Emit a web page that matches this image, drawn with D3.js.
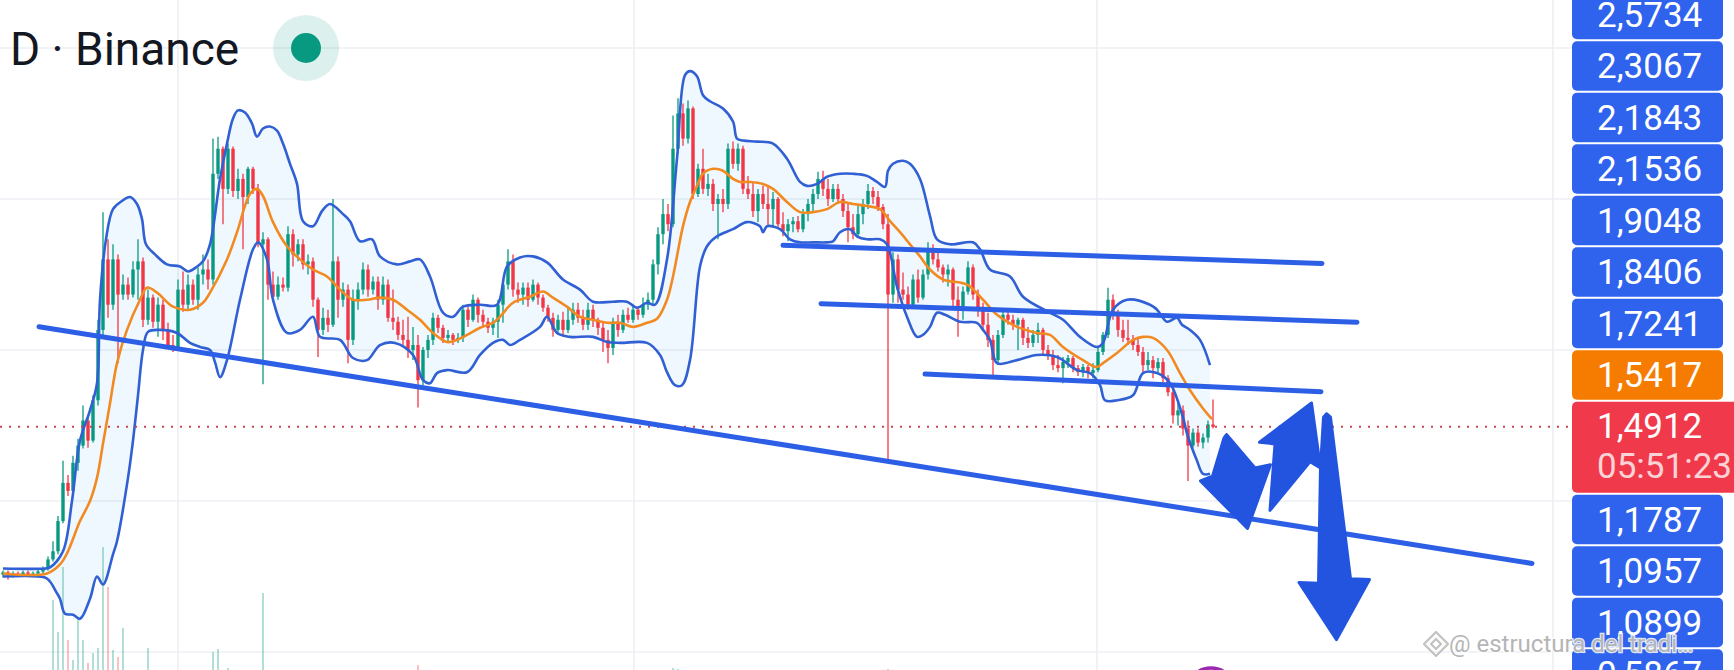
<!DOCTYPE html>
<html><head><meta charset="utf-8">
<script src="https://cdn.jsdelivr.net/npm/d3@7"></script>
<style>html,body{margin:0;padding:0;background:#fff;overflow:hidden}svg{display:block}</style>
</head><body><svg id="c" width="1734" height="670"></svg>
<script>
// ---------- DATA (daily candles, Binance) ----------
const openP = [
0.513,0.527,0.507,0.520,0.513,0.527,0.513,0.520,0.533,0.553,
0.613,0.667,0.867,1.120,1.067,1.253,1.367,1.533,1.400,1.667,
2.133,2.600,2.300,2.600,2.367,2.433,2.367,2.533,2.587,2.200,
2.347,2.187,2.300,2.133,2.033,2.013,2.400,2.300,2.433,2.333,
2.500,2.533,2.467,3.167,3.333,3.067,3.333,3.053,3.133,3.013,
3.200,3.067,2.700,2.733,2.433,2.353,2.433,2.413,2.767,2.633,
2.700,2.567,2.587,2.333,2.133,2.213,2.167,2.587,2.333,2.400,
2.067,2.333,2.400,2.533,2.400,2.453,2.333,2.433,2.213,2.187,
2.100,2.067,2.000,2.033,1.800,2.000,2.067,2.213,2.147,2.080,
2.100,2.067,2.080,2.267,2.200,2.333,2.233,2.187,2.147,2.187,
2.300,2.433,2.587,2.400,2.367,2.413,2.333,2.433,2.347,2.280,
2.213,2.133,2.200,2.133,2.200,2.267,2.213,2.167,2.267,2.200,
2.147,2.067,2.013,2.187,2.133,2.233,2.200,2.267,2.233,2.300,
2.333,2.567,2.767,2.900,2.833,3.333,3.567,3.400,3.600,3.033,
3.200,3.067,3.100,2.967,3.000,2.967,3.333,3.233,3.333,3.067,
3.033,2.920,3.033,2.967,2.933,3.000,2.833,2.787,2.833,2.853,
2.800,2.900,2.967,3.033,3.133,3.067,3.000,3.067,3.000,2.920,
2.813,2.767,2.900,2.967,3.053,3.013,2.947,2.833,2.367,2.600,
2.400,2.367,2.300,2.467,2.347,2.500,2.667,2.600,2.547,2.500,
2.533,2.333,2.267,2.387,2.547,2.367,2.267,2.167,2.067,1.933,
2.100,2.233,2.200,2.167,2.200,2.080,2.047,2.100,2.133,2.000,
1.967,1.900,1.880,1.920,1.947,1.880,1.853,1.887,1.847,1.867,
1.987,2.100,2.333,2.233,2.133,2.080,2.067,2.033,1.987,1.900,
1.933,1.880,1.920,1.813,1.720,1.567,1.600,1.480,1.367,1.453,
1.387,1.420,1.507];
const highP = [
0.540,0.540,0.533,0.533,0.540,0.540,0.533,0.547,0.567,0.633,
0.733,0.900,1.267,1.173,1.300,1.413,1.633,1.567,1.700,2.200,
2.913,2.733,2.700,2.633,2.500,2.480,2.587,2.733,2.613,2.400,
2.367,2.347,2.333,2.180,2.100,2.467,2.520,2.500,2.467,2.547,
2.633,2.600,3.400,3.413,3.347,3.367,3.347,3.200,3.167,3.213,
3.213,3.100,2.780,2.747,2.520,2.487,2.480,2.820,2.800,2.733,
2.733,2.633,2.613,2.347,2.280,2.267,3.000,2.620,2.447,2.433,
2.400,2.447,2.580,2.567,2.487,2.487,2.487,2.467,2.400,2.220,
2.200,2.220,2.153,2.100,2.020,2.100,2.247,2.233,2.167,2.133,
2.113,2.113,2.300,2.287,2.367,2.347,2.267,2.213,2.213,2.333,
2.453,2.667,2.633,2.447,2.447,2.447,2.467,2.447,2.367,2.300,
2.247,2.233,2.253,2.287,2.313,2.313,2.267,2.313,2.300,2.213,
2.180,2.133,2.213,2.233,2.267,2.280,2.300,2.287,2.347,2.380,
2.600,2.813,3.000,2.967,3.553,3.667,3.633,3.653,3.613,3.233,
3.333,3.167,3.133,3.033,3.067,3.367,3.380,3.367,3.353,3.153,
3.113,3.067,3.087,3.087,3.047,3.013,2.913,2.867,2.880,2.887,
2.933,3.000,3.067,3.180,3.187,3.133,3.100,3.100,3.033,2.967,
2.900,2.953,3.000,3.100,3.080,3.053,2.967,2.900,2.647,2.633,
2.513,2.420,2.500,2.533,2.533,2.713,2.700,2.647,2.567,2.567,
2.547,2.420,2.420,2.587,2.567,2.400,2.313,2.247,2.100,2.133,
2.267,2.267,2.233,2.213,2.213,2.153,2.133,2.180,2.147,2.033,
2.000,1.967,1.953,1.967,1.960,1.900,1.907,1.900,1.913,2.013,
2.120,2.413,2.367,2.267,2.200,2.200,2.100,2.080,2.020,1.987,
1.960,1.947,1.947,1.833,1.747,1.647,1.633,1.533,1.480,1.480,
1.447,1.533,1.673];
const lowP = [
0.493,0.480,0.493,0.500,0.507,0.500,0.500,0.507,0.520,0.540,
0.600,0.647,0.853,1.033,1.047,1.200,1.347,1.353,1.387,1.633,
2.100,2.213,2.267,1.913,2.333,2.333,2.347,2.333,2.153,2.167,
2.147,2.087,2.067,2.013,1.987,2.000,2.253,2.267,2.300,2.267,
2.433,2.400,2.433,3.133,2.833,3.033,3.013,3.000,2.667,2.967,
3.033,2.680,1.773,2.333,2.320,2.333,2.387,2.387,2.553,2.587,
2.533,2.500,2.287,1.953,2.100,2.120,2.153,2.213,2.287,1.913,
2.033,2.267,2.367,2.353,2.367,2.267,2.300,2.187,2.133,2.067,
2.033,1.947,1.933,1.620,1.767,1.947,2.033,2.113,2.047,2.047,
2.033,2.047,2.053,2.153,2.187,2.180,2.153,2.113,2.100,2.080,
2.180,2.400,2.353,2.313,2.300,2.287,2.320,2.300,2.253,2.187,
2.087,2.100,2.087,2.113,2.167,2.180,2.133,2.133,2.153,2.100,
1.987,1.913,1.967,2.087,2.113,2.180,2.180,2.200,2.213,2.267,
2.300,2.500,2.700,2.787,2.813,3.300,3.353,3.367,3.000,3.013,
3.033,3.020,2.920,2.733,2.913,2.933,3.200,3.187,3.033,3.000,
2.880,2.847,2.933,2.820,2.813,2.813,2.753,2.720,2.780,2.780,
2.780,2.853,2.920,3.000,3.020,2.953,2.980,2.967,2.880,2.713,
2.733,2.747,2.833,2.933,2.967,2.920,2.800,1.267,2.313,2.313,
2.333,2.267,2.280,2.313,2.333,2.467,2.567,2.520,2.447,2.420,
2.287,2.087,2.200,2.367,2.333,2.220,2.133,2.020,1.833,1.900,
2.080,2.167,2.133,2.000,2.033,2.013,2.020,2.047,1.967,1.933,
1.867,1.853,1.780,1.880,1.853,1.827,1.820,1.813,1.813,1.853,
1.967,2.080,2.200,2.087,2.053,2.033,2.000,1.960,1.853,1.867,
1.813,1.853,1.787,1.693,1.513,1.500,1.433,1.133,1.353,1.360,
1.347,1.387,1.480];
const closeP = [
0.527,0.507,0.520,0.513,0.527,0.513,0.520,0.533,0.553,0.613,
0.667,0.867,1.120,1.067,1.253,1.367,1.533,1.400,1.667,2.133,
2.600,2.300,2.600,2.367,2.433,2.367,2.533,2.587,2.200,2.347,
2.187,2.300,2.133,2.033,2.013,2.400,2.300,2.433,2.333,2.500,
2.533,2.467,3.167,3.333,3.067,3.333,3.053,3.133,3.013,3.200,
3.067,2.700,2.733,2.433,2.353,2.433,2.413,2.767,2.633,2.700,
2.567,2.587,2.333,2.133,2.213,2.167,2.587,2.333,2.400,2.067,
2.333,2.400,2.533,2.400,2.453,2.333,2.433,2.213,2.187,2.100,
2.067,2.000,2.033,1.800,2.000,2.067,2.213,2.147,2.080,2.100,
2.067,2.080,2.267,2.200,2.333,2.233,2.187,2.147,2.187,2.300,
2.433,2.587,2.400,2.367,2.413,2.333,2.433,2.347,2.280,2.213,
2.133,2.200,2.133,2.200,2.267,2.213,2.167,2.267,2.200,2.147,
2.067,2.013,2.187,2.133,2.233,2.200,2.267,2.233,2.300,2.333,
2.567,2.767,2.900,2.833,3.333,3.567,3.400,3.600,3.033,3.200,
3.067,3.100,2.967,3.000,2.967,3.333,3.233,3.333,3.067,3.033,
2.920,3.033,2.967,2.933,3.000,2.833,2.787,2.833,2.853,2.800,
2.900,2.967,3.033,3.133,3.067,3.000,3.067,3.000,2.920,2.813,
2.767,2.900,2.967,3.053,3.013,2.947,2.833,2.367,2.600,2.400,
2.367,2.300,2.467,2.347,2.500,2.667,2.600,2.547,2.500,2.533,
2.333,2.267,2.387,2.547,2.367,2.267,2.167,2.067,1.933,2.100,
2.233,2.200,2.167,2.200,2.080,2.047,2.100,2.133,2.000,1.967,
1.900,1.880,1.920,1.947,1.880,1.853,1.887,1.847,1.867,1.987,
2.100,2.333,2.233,2.133,2.080,2.067,2.033,1.987,1.900,1.933,
1.880,1.920,1.813,1.720,1.567,1.600,1.480,1.367,1.453,1.387,
1.420,1.507,1.4912];
const volume = [
4,3,5,3,4,3,4,5,6,8,
80,48,113,40,20,63,40,17,27,32,
133,93,30,23,52,9,7,8,6,32,
6,5,4,5,6,8,5,4,5,4,
5,6,28,31,8,12,7,6,5,6,
5,7,87,9,6,5,4,6,8,5,
5,4,6,7,5,4,9,6,5,7,
5,4,6,5,4,5,4,6,5,4,
5,4,6,15,7,5,4,5,4,3,
3,4,6,4,5,4,3,4,3,5,
6,8,5,4,3,4,3,4,3,4,
4,3,4,3,4,3,4,5,3,4,
4,5,4,3,4,3,4,3,4,6,
9,10,8,6,12,11,8,7,9,6,
5,4,5,6,4,7,5,4,6,4,
4,3,4,3,4,5,3,4,3,3,
4,3,4,5,4,3,4,3,4,5,
4,5,4,3,3,4,5,11,6,5,
4,3,4,3,4,5,4,3,3,4,
5,4,3,4,4,3,4,5,6,4,
3,3,3,4,3,3,4,3,4,3,
4,3,4,3,3,3,3,3,3,4,
4,6,4,3,3,3,3,3,4,3,
3,3,4,4,6,5,6,9,4,3,
3,4,3];

// Bollinger bands: [day index, price]
const upperBand = [[0,0.553],[8.4,0.553],[9.4,0.56],[12,0.667],[13.8,1.0],[15.4,1.4],[17.4,1.6],[18.8,1.78],[19.4,2.333],[20.6,2.733],[22,2.933],[23.8,2.987],[25.4,3.013],[26.8,2.967],[27.8,2.867],[28.6,2.7],[30.4,2.633],[32.8,2.567],[35.4,2.553],[37,2.52],[38.6,2.547],[40,2.587],[41.4,2.7],[43.4,3.133],[44.8,3.367],[46,3.533],[47,3.587],[48.4,3.573],[49.8,3.5],[50.8,3.413],[52,3.467],[53.4,3.48],[54.8,3.453],[56,3.367],[57.4,3.233],[58.8,3.1],[60,2.853],[62,2.82],[63.8,2.92],[65.4,2.967],[68,2.9],[69.4,2.853],[71.4,2.72],[73.8,2.733],[75.4,2.62],[78.8,2.567],[81.4,2.587],[83.4,2.6],[85.4,2.487],[88,2.247],[90,2.22],[92,2.287],[95.4,2.3],[98.8,2.3],[100.8,2.553],[103.4,2.613],[106,2.62],[108.8,2.58],[112,2.467],[115.4,2.4],[118,2.32],[122,2.32],[124.8,2.32],[126.8,2.28],[128.8,2.313],[130.4,2.3],[132.8,2.6],[134.8,3.267],[136.4,3.82],[137.4,3.847],[138.8,3.813],[140,3.687],[141.4,3.647],[144,3.6],[146,3.513],[146.8,3.4],[148,3.387],[150.8,3.38],[154,3.367],[156.8,3.267],[159.4,3.113],[160.8,3.087],[162.8,3.1],[164.8,3.147],[167.4,3.167],[170,3.167],[172.8,3.153],[174.8,3.113],[176.4,3.08],[177,3.187],[178,3.233],[180,3.253],[181.4,3.233],[183.4,3.133],[185.4,2.887],[186.8,2.733],[189.4,2.7],[194,2.713],[195.4,2.667],[197.4,2.533],[201.4,2.487],[204,2.353],[209.4,2.247],[212,2.2],[215.4,2.087],[218.8,2.02],[220,2.047],[222,2.267],[224.8,2.333],[229.4,2.3],[230.8,2.267],[232.8,2.187],[234.8,2.213],[235.8,2.167],[237.4,2.133],[239.4,2.067],[241.4,1.9]];
const middleBand = [[0,0.52],[8.8,0.52],[11.4,0.58],[12.8,0.653],[15.4,0.867],[17.4,1.0],[18.8,1.153],[20,1.38],[21.4,1.647],[22.8,1.913],[24.8,2.133],[27.4,2.333],[28.8,2.413],[30.8,2.38],[34,2.287],[37.4,2.267],[40,2.313],[41.4,2.38],[44.8,2.6],[46.8,2.78],[49.4,3.033],[50.8,3.067],[52,3.02],[54,2.847],[56.8,2.687],[59.4,2.6],[62,2.533],[64.8,2.487],[67.4,2.4],[70,2.333],[72.8,2.333],[75.4,2.347],[78,2.333],[80.8,2.267],[83.4,2.2],[86,2.113],[88.8,2.053],[90.8,2.067],[92.8,2.1],[95.4,2.147],[98,2.18],[99.4,2.22],[102,2.313],[105.4,2.353],[108,2.387],[110,2.347],[112.8,2.287],[115.4,2.22],[118,2.2],[120.8,2.18],[123.4,2.18],[126,2.153],[128.8,2.18],[130.8,2.207],[132.8,2.333],[134,2.487],[136,2.82],[137.4,2.98],[138.8,3.087],[140,3.167],[142,3.2],[144,3.187],[146,3.133],[147.4,3.113],[149.4,3.113],[152,3.1],[154,3.067],[156.8,2.98],[159.4,2.913],[162,2.913],[164.8,2.933],[167.4,2.98],[170,2.967],[172.8,2.953],[175.4,2.933],[177.4,2.853],[179.4,2.78],[181.4,2.7],[183.4,2.62],[185.4,2.533],[188,2.467],[192.8,2.433],[196,2.333],[198.8,2.233],[202.8,2.153],[206.8,2.113],[209.4,2.1],[212,2.02],[216,1.933],[218.8,1.887],[220,1.913],[222.8,1.98],[226,2.067],[228,2.087],[230,2.08],[232.8,2.0],[235.4,1.847],[237.4,1.733],[240,1.613],[241.8,1.5417]];
const lowerBand = [[0,0.5],[8.4,0.493],[9.4,0.467],[10.6,0.4],[11.4,0.353],[12.4,0.253],[14,0.247],[15.4,0.22],[17.4,0.353],[18.8,0.5],[20,0.447],[22,0.647],[22.8,0.733],[25,1.153],[26,1.4],[27,1.7],[28,2.0],[29,2.12],[31.4,2.133],[34.8,2.113],[37.4,2.047],[39.4,2.02],[41.4,2.0],[42.4,1.92],[43.4,1.82],[44.8,1.933],[47.4,2.333],[50,2.667],[51,2.713],[52.8,2.6],[54,2.333],[56.8,2.113],[59.4,2.133],[62,2.22],[63.4,2.087],[67.4,2.067],[70,1.947],[72.8,1.933],[75.4,2.033],[78.4,2.047],[82,1.967],[84,1.8],[85.4,1.78],[86.8,1.847],[88.8,1.867],[92.8,1.853],[95.4,1.967],[98,2.047],[100,2.067],[101.4,2.033],[103.4,2.067],[107.4,2.153],[108.8,2.22],[110.8,2.113],[113.4,2.087],[118,2.087],[120.8,2.053],[123.4,2.047],[128.8,2.047],[131.4,1.967],[132.8,1.853],[134.4,1.767],[135.8,1.767],[137.4,1.933],[139.4,2.553],[140.8,2.687],[142.8,2.753],[146,2.8],[148.8,2.847],[151.4,2.82],[152,2.78],[152.8,2.82],[155.4,2.8],[157.4,2.733],[159.4,2.713],[162,2.713],[164.8,2.713],[166,2.72],[167.4,2.78],[169.4,2.8],[170.8,2.753],[172.8,2.733],[175.4,2.733],[176.8,2.7],[178.8,2.42],[180.8,2.22],[182.8,2.087],[184,2.1],[185.4,2.153],[186.8,2.247],[188.4,2.233],[191.4,2.187],[194.8,2.18],[196,2.133],[197.4,2.067],[198.8,1.913],[202.8,1.933],[206.8,1.967],[210.8,1.953],[214.8,1.867],[217.4,1.847],[219.4,1.767],[220.4,1.667],[222.8,1.667],[226,1.7],[228,1.847],[230.8,1.847],[233.4,1.78],[236,1.553],[236.8,1.447],[238.8,1.267],[240,1.18],[241.4,1.18]];

// drawings: trend lines [[day, price],[day, price]]
const trendLines = [
  [[7.2,2.1536],[305.8,0.5867]],
  [[156,2.693],[263.8,2.5734]],
  [[163.6,2.3067],[270.8,2.1843]],
  [[184.4,1.8406],[263.6,1.7241]]
];
// hand-drawn arrows (outline points, [day, price])
const arrowShapes = [
  [[244.7,1.44],[250.4,1.218],[253.5,1.24],[248.9,0.818],[239.5,1.133],[241.9,1.165],[244.2,1.418]],
  [[261.7,1.649],[263.5,1.218],[261.4,1.26],[253.4,0.938],[254.4,1.378],[251.3,1.389]],
  [[264.7,1.578],[265.5,1.555],[269.5,0.485],[273.3,0.48],[266.7,0.082],[259.2,0.46],[263.1,0.455],[263.5,1.222],[264.1,1.555]]
];
const quarterDays = [35, 126.2, 218.8, 310];
const priceGrid = [0, 1, 2, 3, 4];
const lastPrice = 1.4912;
const maValue = 1.5417;
const countdown = "05:51:23";
const tagsAbove = [2.5734, 2.3067, 2.1843, 2.1536, 1.9048, 1.8406, 1.7241];
const tagsBelow = [1.1787, 1.0957, 1.0899, 0.5867];
const titleText = "D · Binance";
const watermark = "@ estructura del tradi…";
const eventDay = 241.6;

// ---------- CHART ----------
const W = 1734, H = 670, plotRight = 1572;
const svg = d3.select("#c");
const x = d3.scaleLinear().domain([0, 242]).range([3, 1213]);
const y = d3.scaleLinear().domain([0, 4]).range([652, 48]);
const vy = d3.scaleLinear().domain([0, 140]).range([680, 540]);
const fmt = v => d3.format(".4f")(v).replace(".", ",");
const FONT = "Roboto, 'Noto Sans', sans-serif";
const GREEN = "#089981", RED = "#f23645";

svg.append("rect").attr("width", W).attr("height", H).attr("fill", "#fff");
svg.append("defs").append("clipPath").attr("id", "plot")
  .append("rect").attr("x", 0).attr("y", 0).attr("width", plotRight).attr("height", H);
const g = svg.append("g").attr("clip-path", "url(#plot)");

// grid
g.selectAll(".hg").data(priceGrid).join("line").attr("class", "hg")
  .attr("x1", 0).attr("x2", plotRight).attr("y1", d => y(d)).attr("y2", d => y(d))
  .attr("stroke", "#eceff3").attr("stroke-width", 1.6);
g.selectAll(".vg").data(quarterDays).join("line").attr("class", "vg")
  .attr("x1", d => x(d)).attr("x2", d => x(d)).attr("y1", 0).attr("y2", H)
  .attr("stroke", "#eceff3").attr("stroke-width", 1.6);

const idx = d3.range(closeP.length);
const up = i => closeP[i] >= openP[i];

// volume
g.selectAll(".vol").data(idx).join("rect").attr("class", "vol")
  .attr("x", i => x(i) - 0.7).attr("width", 1.4)
  .attr("y", i => vy(volume[i])).attr("height", i => vy(0) - vy(volume[i]))
  .attr("fill", i => up(i) ? GREEN : RED).attr("opacity", 0.45);

// band fill
const bandLine = d3.line().x(d => x(d[0])).y(d => y(d[1])).curve(d3.curveCatmullRom.alpha(0.5));
const fillD = bandLine(upperBand) + "L" + bandLine(lowerBand.slice().reverse()).slice(1) + "Z";
g.append("path").attr("d", fillD).attr("fill", "#2196f3").attr("opacity", 0.07);

// candles
const cg = g.append("g");
cg.selectAll(".wick").data(idx).join("line").attr("class", "wick")
  .attr("x1", i => x(i)).attr("x2", i => x(i))
  .attr("y1", i => y(highP[i])).attr("y2", i => y(lowP[i]))
  .attr("stroke", i => up(i) ? GREEN : RED).attr("stroke-width", 1.3);
cg.selectAll(".body").data(idx).join("rect").attr("class", "body")
  .attr("x", i => x(i) - 1.7).attr("width", 3.4)
  .attr("y", i => Math.min(y(openP[i]), y(closeP[i])))
  .attr("height", i => Math.max(1.2, Math.abs(y(openP[i]) - y(closeP[i]))))
  .attr("fill", i => up(i) ? GREEN : RED);

// indicator lines
g.append("path").attr("d", bandLine(upperBand)).attr("fill", "none").attr("stroke", "#3160d4").attr("stroke-width", 2.6).attr("stroke-linejoin", "round");
g.append("path").attr("d", bandLine(lowerBand)).attr("fill", "none").attr("stroke", "#3160d4").attr("stroke-width", 2.6).attr("stroke-linejoin", "round");
g.append("path").attr("d", bandLine(middleBand)).attr("fill", "none").attr("stroke", "#f28a22").attr("stroke-width", 2.6).attr("stroke-linejoin", "round");

// last price dotted line
g.append("line").attr("x1", 0).attr("x2", plotRight).attr("y1", y(lastPrice)).attr("y2", y(lastPrice))
  .attr("stroke", "#c94450").attr("stroke-width", 2).attr("stroke-dasharray", "2 7");

// trend lines
g.selectAll(".tl").data(trendLines).join("line").attr("class", "tl")
  .attr("x1", d => x(d[0][0])).attr("y1", d => y(d[0][1]))
  .attr("x2", d => x(d[1][0])).attr("y2", d => y(d[1][1]))
  .attr("stroke", "#2d5fe6").attr("stroke-width", 5).attr("stroke-linecap", "round");

// arrows
const arrowLine = d3.line().x(d => x(d[0])).y(d => y(d[1])).curve(d3.curveLinearClosed);
g.selectAll(".arr").data(arrowShapes).join("path").attr("class", "arr")
  .attr("d", d => arrowLine(d)).attr("fill", "#2254e0").attr("stroke", "#2254e0")
  .attr("stroke-width", 3).attr("stroke-linejoin", "round");

// event marker at bottom
g.append("circle").attr("cx", x(eventDay)).attr("cy", H + 22).attr("r", 24)
  .attr("fill", "#fff").attr("stroke", "#9c27b0").attr("stroke-width", 3.5);

// title
svg.append("text").attr("x", 10).attr("y", 65).text(titleText)
  .attr("font-family", FONT).attr("font-size", 46).attr("fill", "#131722");
svg.append("circle").attr("cx", 306).attr("cy", 48).attr("r", 33).attr("fill", GREEN).attr("opacity", 0.14);
svg.append("circle").attr("cx", 306).attr("cy", 48).attr("r", 15).attr("fill", GREEN);

// price tags on the right axis (stacked around the last price tag)
const tagLeft = 1572, tagW = 151, pitch = 51.5, boxH = 49.5;
const redTop = y(lastPrice) - 25;
const tags = [];
tagsAbove.forEach((v, k) => tags.push({ v, top: redTop - pitch * (tagsAbove.length + 1 - k), color: "#2f63ee" }));
tags.push({ v: maValue, top: redTop - pitch, color: "#f57c00" });
tagsBelow.forEach((v, k) => tags.push({ v, top: redTop + 93 + pitch * k, color: "#2f63ee" }));
const ax = svg.append("g");
ax.selectAll(".tag").data(tags).join("rect").attr("class", "tag")
  .attr("x", tagLeft).attr("y", d => d.top).attr("width", tagW).attr("height", boxH)
  .attr("rx", 5).attr("fill", d => d.color);
ax.selectAll(".tagt").data(tags).join("text").attr("class", "tagt")
  .attr("x", 1597).attr("y", d => d.top + boxH / 2 + 12).text(d => fmt(d.v))
  .attr("font-family", FONT).attr("font-size", 35).attr("fill", "#fff");
ax.append("rect").attr("x", tagLeft).attr("y", redTop).attr("width", W - tagLeft + 6).attr("height", 91)
  .attr("rx", 5).attr("fill", "#f0394a");
ax.append("text").attr("x", 1597).attr("y", redTop + 24 + 12).text(fmt(lastPrice))
  .attr("font-family", FONT).attr("font-size", 35).attr("fill", "#fff");
ax.append("text").attr("x", 1597).attr("y", redTop + 64 + 12).text(countdown)
  .attr("font-family", FONT).attr("font-size", 35).attr("fill", "#fff").attr("opacity", 0.78);

// watermark (drawn on top of everything)
const wm = svg.append("g");
wm.append("text").attr("x", 1449).attr("y", 652).text(watermark)
  .attr("font-family", FONT).attr("font-size", 24).attr("fill", "#b5b5b5")
  .attr("stroke", "#ffffff").attr("stroke-width", 2.5).attr("stroke-opacity", 0.85).attr("paint-order", "stroke");
wm.append("path").attr("transform", "translate(1436,644)")
  .attr("d", "M0,-12 L12,0 L0,12 L-12,0 Z M0,-5 L5,0 L0,5 L-5,0 Z")
  .attr("fill", "none").attr("stroke", "#c2c2c2").attr("stroke-width", 2.2).attr("stroke-linejoin", "round");
</script>
</body></html>
